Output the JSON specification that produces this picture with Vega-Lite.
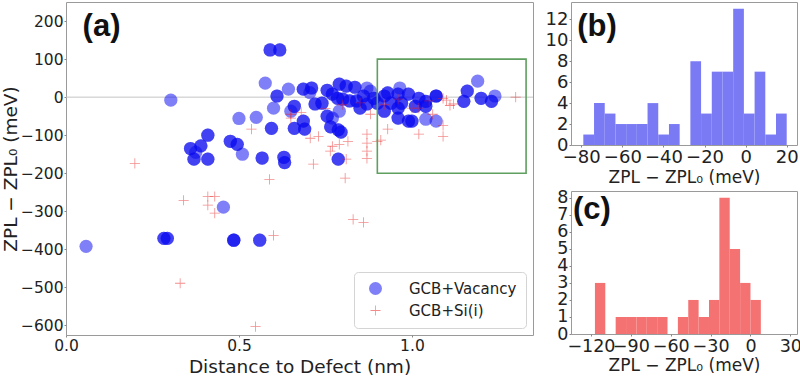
{
"$schema": "https://vega.github.io/schema/vega-lite/v6.json",
"padding": {"left": 0, "top": 1, "right": 0, "bottom": 0},
"config": {
 "font": "DejaVu Sans",
 "view": {"stroke": "#9a9a9a", "strokeWidth": 1},
 "axis": {"grid": false, "domain": false, "tickColor": "#888888", "tickSize": 2, "labelColor": "#222222", "titleColor": "#222222", "titleFontWeight": "normal", "labelFont": "DejaVu Sans", "titleFont": "DejaVu Sans", "labelPadding": 1, "labelOverlap": false, "labelFlush": false}
},
"resolve": {"legend": {"color": "independent", "shape": "independent"}},
"datasets": {
 "scatter": [
  {"d":0.058,"z":-392,"t":"GCB+Vacancy"},
  {"d":0.283,"z":-371,"t":"GCB+Vacancy"},{"d":0.283,"z":-371,"t":"GCB+Vacancy"},
  {"d":0.293,"z":-371,"t":"GCB+Vacancy"},{"d":0.293,"z":-371,"t":"GCB+Vacancy"},
  {"d":0.485,"z":-376,"t":"GCB+Vacancy"},{"d":0.485,"z":-376,"t":"GCB+Vacancy"},{"d":0.485,"z":-376,"t":"GCB+Vacancy"},
  {"d":0.56,"z":-376,"t":"GCB+Vacancy"},{"d":0.56,"z":-376,"t":"GCB+Vacancy"},
  {"d":0.455,"z":-289,"t":"GCB+Vacancy"},
  {"d":0.303,"z":-8,"t":"GCB+Vacancy"},
  {"d":0.59,"z":124,"t":"GCB+Vacancy"},{"d":0.59,"z":124,"t":"GCB+Vacancy"},
  {"d":0.618,"z":124,"t":"GCB+Vacancy"},{"d":0.618,"z":124,"t":"GCB+Vacancy"},
  {"d":0.576,"z":37,"t":"GCB+Vacancy"},
  {"d":0.61,"z":3,"t":"GCB+Vacancy"},{"d":0.61,"z":3,"t":"GCB+Vacancy"},
  {"d":0.60,"z":-29,"t":"GCB+Vacancy"},
  {"d":0.50,"z":-56,"t":"GCB+Vacancy"},
  {"d":0.55,"z":-53,"t":"GCB+Vacancy"},
  {"d":0.594,"z":-82,"t":"GCB+Vacancy"},{"d":0.594,"z":-82,"t":"GCB+Vacancy"},
  {"d":0.41,"z":-100,"t":"GCB+Vacancy"},{"d":0.41,"z":-100,"t":"GCB+Vacancy"},
  {"d":0.36,"z":-135,"t":"GCB+Vacancy"},{"d":0.36,"z":-135,"t":"GCB+Vacancy"},
  {"d":0.39,"z":-128,"t":"GCB+Vacancy"},{"d":0.39,"z":-128,"t":"GCB+Vacancy"},
  {"d":0.375,"z":-145,"t":"GCB+Vacancy"},
  {"d":0.37,"z":-163,"t":"GCB+Vacancy"},{"d":0.37,"z":-163,"t":"GCB+Vacancy"},
  {"d":0.41,"z":-163,"t":"GCB+Vacancy"},{"d":0.41,"z":-163,"t":"GCB+Vacancy"},
  {"d":0.475,"z":-116,"t":"GCB+Vacancy"},{"d":0.475,"z":-116,"t":"GCB+Vacancy"},
  {"d":0.495,"z":-124,"t":"GCB+Vacancy"},{"d":0.495,"z":-124,"t":"GCB+Vacancy"},
  {"d":0.51,"z":-150,"t":"GCB+Vacancy"},
  {"d":0.567,"z":-160,"t":"GCB+Vacancy"},{"d":0.567,"z":-160,"t":"GCB+Vacancy"},
  {"d":0.63,"z":-158,"t":"GCB+Vacancy"},{"d":0.63,"z":-158,"t":"GCB+Vacancy"},
  {"d":0.632,"z":-172,"t":"GCB+Vacancy"},{"d":0.632,"z":-172,"t":"GCB+Vacancy"},
  {"d":0.643,"z":21,"t":"GCB+Vacancy"},
  {"d":0.686,"z":21,"t":"GCB+Vacancy"},{"d":0.686,"z":21,"t":"GCB+Vacancy"},
  {"d":0.71,"z":24,"t":"GCB+Vacancy"},{"d":0.71,"z":24,"t":"GCB+Vacancy"},
  {"d":0.705,"z":12,"t":"GCB+Vacancy"},
  {"d":0.66,"z":-24,"t":"GCB+Vacancy"},{"d":0.66,"z":-24,"t":"GCB+Vacancy"},
  {"d":0.65,"z":-37,"t":"GCB+Vacancy"},
  {"d":0.66,"z":-82,"t":"GCB+Vacancy"},{"d":0.66,"z":-82,"t":"GCB+Vacancy"},
  {"d":0.686,"z":-63,"t":"GCB+Vacancy"},{"d":0.686,"z":-63,"t":"GCB+Vacancy"},
  {"d":0.69,"z":-84,"t":"GCB+Vacancy"},{"d":0.69,"z":-84,"t":"GCB+Vacancy"},
  {"d":0.72,"z":-18,"t":"GCB+Vacancy"},{"d":0.72,"z":-18,"t":"GCB+Vacancy"},
  {"d":0.74,"z":-16,"t":"GCB+Vacancy"},{"d":0.74,"z":-16,"t":"GCB+Vacancy"},
  {"d":0.755,"z":18,"t":"GCB+Vacancy"},{"d":0.755,"z":18,"t":"GCB+Vacancy"},
  {"d":0.77,"z":8,"t":"GCB+Vacancy"},{"d":0.77,"z":8,"t":"GCB+Vacancy"},
  {"d":0.79,"z":34,"t":"GCB+Vacancy"},{"d":0.79,"z":34,"t":"GCB+Vacancy"},
  {"d":0.81,"z":29,"t":"GCB+Vacancy"},{"d":0.81,"z":29,"t":"GCB+Vacancy"},
  {"d":0.835,"z":26,"t":"GCB+Vacancy"},{"d":0.835,"z":26,"t":"GCB+Vacancy"},
  {"d":0.785,"z":-3,"t":"GCB+Vacancy"},{"d":0.785,"z":-3,"t":"GCB+Vacancy"},
  {"d":0.80,"z":-5,"t":"GCB+Vacancy"},{"d":0.80,"z":-5,"t":"GCB+Vacancy"},
  {"d":0.82,"z":-10,"t":"GCB+Vacancy"},{"d":0.82,"z":-10,"t":"GCB+Vacancy"},
  {"d":0.85,"z":-29,"t":"GCB+Vacancy"},{"d":0.85,"z":-29,"t":"GCB+Vacancy"},
  {"d":0.87,"z":-18,"t":"GCB+Vacancy"},{"d":0.87,"z":-18,"t":"GCB+Vacancy"},
  {"d":0.88,"z":16,"t":"GCB+Vacancy"},
  {"d":0.87,"z":24,"t":"GCB+Vacancy"},
  {"d":0.79,"z":-37,"t":"GCB+Vacancy"},
  {"d":0.755,"z":-50,"t":"GCB+Vacancy"},{"d":0.755,"z":-50,"t":"GCB+Vacancy"},
  {"d":0.765,"z":-78,"t":"GCB+Vacancy"},{"d":0.765,"z":-78,"t":"GCB+Vacancy"},
  {"d":0.787,"z":-86,"t":"GCB+Vacancy"},{"d":0.787,"z":-86,"t":"GCB+Vacancy"},
  {"d":0.795,"z":-92,"t":"GCB+Vacancy"},{"d":0.795,"z":-92,"t":"GCB+Vacancy"},
  {"d":0.77,"z":-55,"t":"GCB+Vacancy"},
  {"d":0.787,"z":-163,"t":"GCB+Vacancy"},{"d":0.787,"z":-163,"t":"GCB+Vacancy"},
  {"d":0.86,"z":3,"t":"GCB+Vacancy"},{"d":0.86,"z":3,"t":"GCB+Vacancy"},
  {"d":0.84,"z":-10,"t":"GCB+Vacancy"},{"d":0.84,"z":-10,"t":"GCB+Vacancy"},
  {"d":0.92,"z":3,"t":"GCB+Vacancy"},{"d":0.92,"z":3,"t":"GCB+Vacancy"},
  {"d":0.93,"z":11,"t":"GCB+Vacancy"},{"d":0.93,"z":11,"t":"GCB+Vacancy"},
  {"d":0.96,"z":8,"t":"GCB+Vacancy"},{"d":0.96,"z":8,"t":"GCB+Vacancy"},
  {"d":0.965,"z":24,"t":"GCB+Vacancy"},
  {"d":0.99,"z":8,"t":"GCB+Vacancy"},{"d":0.99,"z":8,"t":"GCB+Vacancy"},
  {"d":1.02,"z":-3,"t":"GCB+Vacancy"},{"d":1.02,"z":-3,"t":"GCB+Vacancy"},
  {"d":1.04,"z":-11,"t":"GCB+Vacancy"},{"d":1.04,"z":-11,"t":"GCB+Vacancy"},
  {"d":1.07,"z":3,"t":"GCB+Vacancy"},{"d":1.07,"z":3,"t":"GCB+Vacancy"},{"d":1.07,"z":3,"t":"GCB+Vacancy"},
  {"d":0.92,"z":-37,"t":"GCB+Vacancy"},{"d":0.92,"z":-37,"t":"GCB+Vacancy"},
  {"d":0.96,"z":-29,"t":"GCB+Vacancy"},{"d":0.96,"z":-29,"t":"GCB+Vacancy"},
  {"d":0.96,"z":-55,"t":"GCB+Vacancy"},{"d":0.96,"z":-55,"t":"GCB+Vacancy"},
  {"d":0.99,"z":-63,"t":"GCB+Vacancy"},{"d":0.99,"z":-63,"t":"GCB+Vacancy"},
  {"d":1.0,"z":-63,"t":"GCB+Vacancy"},{"d":1.0,"z":-63,"t":"GCB+Vacancy"},
  {"d":1.04,"z":-58,"t":"GCB+Vacancy"},
  {"d":1.07,"z":-63,"t":"GCB+Vacancy"},
  {"d":0.89,"z":-3,"t":"GCB+Vacancy"},{"d":0.89,"z":-3,"t":"GCB+Vacancy"},
  {"d":0.90,"z":-16,"t":"GCB+Vacancy"},{"d":0.90,"z":-16,"t":"GCB+Vacancy"},
  {"d":0.94,"z":-16,"t":"GCB+Vacancy"},{"d":0.94,"z":-16,"t":"GCB+Vacancy"},
  {"d":0.97,"z":-16,"t":"GCB+Vacancy"},{"d":0.97,"z":-16,"t":"GCB+Vacancy"},
  {"d":1.01,"z":-24,"t":"GCB+Vacancy"},{"d":1.01,"z":-24,"t":"GCB+Vacancy"},
  {"d":1.04,"z":-24,"t":"GCB+Vacancy"},{"d":1.04,"z":-24,"t":"GCB+Vacancy"},
  {"d":1.16,"z":16,"t":"GCB+Vacancy"},{"d":1.16,"z":16,"t":"GCB+Vacancy"},
  {"d":1.15,"z":-11,"t":"GCB+Vacancy"},{"d":1.15,"z":-11,"t":"GCB+Vacancy"},
  {"d":1.19,"z":42,"t":"GCB+Vacancy"},
  {"d":1.20,"z":-3,"t":"GCB+Vacancy"},{"d":1.20,"z":-3,"t":"GCB+Vacancy"},
  {"d":1.23,"z":-11,"t":"GCB+Vacancy"},{"d":1.23,"z":-11,"t":"GCB+Vacancy"},
  {"d":1.24,"z":3,"t":"GCB+Vacancy"},
  {"d":0.199,"z":-174,"t":"GCB+Si(i)"},
  {"d":0.536,"z":-84,"t":"GCB+Si(i)"},
  {"d":0.588,"z":-216,"t":"GCB+Si(i)"},
  {"d":0.34,"z":-271,"t":"GCB+Si(i)"},
  {"d":0.41,"z":-261,"t":"GCB+Si(i)"},
  {"d":0.43,"z":-261,"t":"GCB+Si(i)"},
  {"d":0.41,"z":-284,"t":"GCB+Si(i)"},
  {"d":0.43,"z":-305,"t":"GCB+Si(i)"},
  {"d":0.33,"z":-489,"t":"GCB+Si(i)"},
  {"d":0.548,"z":-603,"t":"GCB+Si(i)"},
  {"d":0.60,"z":-363,"t":"GCB+Si(i)"},
  {"d":0.715,"z":-176,"t":"GCB+Si(i)"},
  {"d":0.83,"z":-321,"t":"GCB+Si(i)"},
  {"d":0.86,"z":-329,"t":"GCB+Si(i)"},
  {"d":0.807,"z":-213,"t":"GCB+Si(i)"},
  {"d":0.706,"z":-108,"t":"GCB+Si(i)"},
  {"d":0.73,"z":-103,"t":"GCB+Si(i)"},
  {"d":0.764,"z":-142,"t":"GCB+Si(i)"},
  {"d":0.77,"z":-129,"t":"GCB+Si(i)"},
  {"d":0.79,"z":-124,"t":"GCB+Si(i)"},
  {"d":0.815,"z":-116,"t":"GCB+Si(i)"},
  {"d":0.81,"z":-163,"t":"GCB+Si(i)"},
  {"d":0.87,"z":-97,"t":"GCB+Si(i)"},
  {"d":0.87,"z":-121,"t":"GCB+Si(i)"},
  {"d":0.87,"z":-142,"t":"GCB+Si(i)"},
  {"d":0.87,"z":-161,"t":"GCB+Si(i)"},
  {"d":0.90,"z":-116,"t":"GCB+Si(i)"},
  {"d":0.91,"z":-113,"t":"GCB+Si(i)"},
  {"d":0.93,"z":-84,"t":"GCB+Si(i)"},
  {"d":1.02,"z":-97,"t":"GCB+Si(i)"},
  {"d":1.09,"z":-103,"t":"GCB+Si(i)"},
  {"d":1.09,"z":-74,"t":"GCB+Si(i)"},
  {"d":1.09,"z":-3,"t":"GCB+Si(i)"},
  {"d":1.12,"z":-18,"t":"GCB+Si(i)"},
  {"d":1.30,"z":0,"t":"GCB+Si(i)"},
  {"d":0.65,"z":-55,"t":"GCB+Si(i)"},
  {"d":0.65,"z":-45,"t":"GCB+Si(i)"},
  {"d":0.68,"z":-40,"t":"GCB+Si(i)"},
  {"d":0.75,"z":-30,"t":"GCB+Si(i)"},
  {"d":0.80,"z":-20,"t":"GCB+Si(i)"},
  {"d":0.85,"z":-15,"t":"GCB+Si(i)"},
  {"d":0.92,"z":-20,"t":"GCB+Si(i)"},
  {"d":1.0,"z":-29,"t":"GCB+Si(i)"},
  {"d":1.02,"z":-29,"t":"GCB+Si(i)"},
  {"d":1.05,"z":-10,"t":"GCB+Si(i)"},
  {"d":0.96,"z":-5,"t":"GCB+Si(i)"},
  {"d":0.88,"z":-45,"t":"GCB+Si(i)"},
  {"d":1.06,"z":-45,"t":"GCB+Si(i)"},
  {"d":1.10,"z":-8,"t":"GCB+Si(i)"},
  {"d":1.11,"z":-22,"t":"GCB+Si(i)"}
 ],
 "histb": [
  {"s":-79.0,"e":-73.79,"n":1},{"s":-73.79,"e":-68.58,"n":4},{"s":-68.58,"e":-63.37,"n":3},
  {"s":-63.37,"e":-58.16,"n":2},{"s":-58.16,"e":-52.95,"n":2},{"s":-52.95,"e":-47.74,"n":2},
  {"s":-47.74,"e":-42.53,"n":4},{"s":-42.53,"e":-37.32,"n":1},{"s":-37.32,"e":-32.11,"n":2},
  {"s":-32.11,"e":-26.9,"n":0},{"s":-26.9,"e":-21.69,"n":8},{"s":-21.69,"e":-16.48,"n":3},
  {"s":-16.48,"e":-11.27,"n":7},{"s":-11.27,"e":-6.06,"n":7},{"s":-6.06,"e":-0.85,"n":13},
  {"s":-0.85,"e":4.36,"n":3},{"s":4.36,"e":9.57,"n":7},{"s":9.57,"e":14.78,"n":1},
  {"s":14.78,"e":19.99,"n":3}
 ],
 "histc": [
  {"s":-117,"e":-109.2,"n":3},{"s":-109.2,"e":-101.4,"n":0},{"s":-101.4,"e":-93.6,"n":1},
  {"s":-93.6,"e":-85.8,"n":1},{"s":-85.8,"e":-78,"n":1},{"s":-78,"e":-70.2,"n":1},
  {"s":-70.2,"e":-62.4,"n":1},{"s":-62.4,"e":-54.6,"n":0},{"s":-54.6,"e":-46.8,"n":1},
  {"s":-46.8,"e":-39,"n":2},{"s":-39,"e":-31.2,"n":1},{"s":-31.2,"e":-23.4,"n":2},
  {"s":-23.4,"e":-15.6,"n":8},{"s":-15.6,"e":-7.8,"n":5},{"s":-7.8,"e":0,"n":3},
  {"s":0,"e":7.8,"n":2}
 ]
},
"spacing": 38,
"bounds": "flush",
"hconcat": [
 {
  "width": 467,
  "height": 333,
  "layer": [
   {
    "data": {"values": [{"zero": 0}]},
    "mark": {"type": "rule", "color": "#c4c4c4", "strokeWidth": 1},
    "encoding": {"y": {"datum": 0}}
   },
   {
    "data": {"name": "scatter"},
    "mark": {"type": "point", "filled": true, "opacity": 0.52, "size": 175},
    "encoding": {
     "x": {"field": "d", "type": "quantitative", "scale": {"domain": [0, 1.35], "nice": false, "zero": false},
       "axis": {"values": [0, 0.5, 1.0], "format": ".1f", "title": "Distance to Defect (nm)", "labelFontSize": 15.5, "titleFontSize": 18.5, "titlePadding": 4, "labelOverlap": false}},
     "y": {"field": "z", "type": "quantitative", "scale": {"domain": [-625, 250], "nice": false, "zero": false},
       "axis": {"values": [-600, -500, -400, -300, -200, -100, 0, 100, 200], "title": "ZPL − ZPL₀ (meV)", "labelFontSize": 15.5, "titleFontSize": 18.5, "titlePadding": 0, "labelOverlap": false}},
     "color": {"field": "t", "type": "nominal", "scale": {"domain": ["GCB+Vacancy", "GCB+Si(i)"], "range": ["#0a0af0", "#e82020"]},
       "legend": {"orient": "bottom-right", "title": null, "offset": 7, "padding": 9, "strokeColor": "#d4d4d4", "fillColor": "#ffffff", "cornerRadius": 4, "labelFontSize": 15, "labelFont": "DejaVu Sans", "labelColor": "#222222", "symbolSize": 169, "symbolOffset": 5, "labelOffset": 26, "rowPadding": 6}},
     "shape": {"field": "t", "type": "nominal", "scale": {"domain": ["GCB+Vacancy", "GCB+Si(i)"], "range": ["circle", "M-0.77,-0.06L-0.06,-0.06L-0.06,-0.77L0.06,-0.77L0.06,-0.06L0.77,-0.06L0.77,0.06L0.06,0.06L0.06,0.77L-0.06,0.77L-0.06,0.06L-0.77,0.06Z"]},
       "legend": {"orient": "bottom-right", "title": null, "offset": 7, "padding": 9, "strokeColor": "#d4d4d4", "fillColor": "#ffffff", "cornerRadius": 4, "labelFontSize": 15, "labelFont": "DejaVu Sans", "labelColor": "#222222", "symbolSize": 169, "symbolOffset": 5, "labelOffset": 26, "rowPadding": 6}}
    }
   },
   {
    "data": {"values": [{"x0": 0.9, "x1": 1.33, "y0": -200, "y1": 100}]},
    "mark": {"type": "rect", "fill": "transparent", "stroke": "#5f9f5f", "strokeWidth": 1.6},
    "encoding": {
     "x": {"field": "x0", "type": "quantitative"}, "x2": {"field": "x1"},
     "y": {"field": "y0", "type": "quantitative"}, "y2": {"field": "y1"}
    }
   },
   {
    "data": {"values": [{"label": "(a)", "lx": 0.048, "ly": 184}]},
    "mark": {"type": "text", "font": "Liberation Sans", "fontWeight": "bold", "fontSize": 31, "align": "left", "baseline": "middle", "color": "#111111"},
    "encoding": {"x": {"field": "lx", "type": "quantitative"}, "y": {"field": "ly", "type": "quantitative"}, "text": {"field": "label"}}
   }
  ]
 },
 {
  "spacing": 46,
  "bounds": "flush",
  "vconcat": [
   {
    "width": 226,
    "height": 143,
    "layer": [
     {
      "data": {"name": "histb"},
      "mark": {"type": "rect", "color": "#7a7af5"},
      "encoding": {
       "x": {"field": "s", "type": "quantitative", "scale": {"domain": [-85, 25], "nice": false, "zero": false},
         "axis": {"values": [-80, -60, -40, -20, 0, 20], "title": "ZPL − ZPL₀ (meV)", "labelFontSize": 18, "titleFontSize": 17, "titlePadding": 3, "labelOverlap": false}},
       "x2": {"field": "e"},
       "y": {"field": "n", "type": "quantitative", "scale": {"domain": [0, 13.65], "nice": false},
         "axis": {"values": [0, 2, 4, 6, 8, 10, 12], "title": null, "labelFontSize": 18, "labelOverlap": false, "labelSeparation": 0}},
       "y2": {"datum": 0}
      }
     },
     {
      "data": {"values": [{"label": "(b)", "lx": -82, "ly": 11.3}]},
      "mark": {"type": "text", "font": "Liberation Sans", "fontWeight": "bold", "fontSize": 31, "align": "left", "baseline": "middle", "color": "#111111"},
      "encoding": {
       "x": {"field": "lx", "type": "quantitative", "axis": {"values": [-80, -60, -40, -20, 0, 20], "title": "ZPL − ZPL₀ (meV)", "labelFontSize": 18, "titleFontSize": 17, "titlePadding": 3, "labelOverlap": false}},
       "y": {"field": "ly", "type": "quantitative", "axis": {"values": [0, 2, 4, 6, 8, 10, 12], "title": null, "labelFontSize": 18, "labelOverlap": false, "labelSeparation": 0}},
       "text": {"field": "label"}}
     }
    ]
   },
   {
    "width": 226,
    "height": 143,
    "layer": [
     {
      "data": {"name": "histc"},
      "mark": {"type": "rect", "color": "#f57272"},
      "encoding": {
       "x": {"field": "s", "type": "quantitative", "scale": {"domain": [-135, 35], "nice": false, "zero": false},
         "axis": {"values": [-120, -90, -60, -30, 0, 30], "title": "ZPL − ZPL₀ (meV)", "labelFontSize": 17.5, "titleFontSize": 17, "titlePadding": 3, "labelOverlap": false}},
       "x2": {"field": "e"},
       "y": {"field": "n", "type": "quantitative", "scale": {"domain": [0, 8.4], "nice": false},
         "axis": {"values": [0, 1, 2, 3, 4, 5, 6, 7, 8], "title": null, "labelFontSize": 17.5, "labelOverlap": false, "labelSeparation": 0}},
       "y2": {"datum": 0}
      }
     },
     {
      "data": {"values": [{"label": "(c)", "lx": -133.5, "ly": 7.3}]},
      "mark": {"type": "text", "font": "Liberation Sans", "fontWeight": "bold", "fontSize": 31, "align": "left", "baseline": "middle", "color": "#111111"},
      "encoding": {
       "x": {"field": "lx", "type": "quantitative", "axis": {"values": [-120, -90, -60, -30, 0, 30], "title": "ZPL − ZPL₀ (meV)", "labelFontSize": 17.5, "titleFontSize": 17, "titlePadding": 3, "labelOverlap": false}},
       "y": {"field": "ly", "type": "quantitative", "axis": {"values": [0, 1, 2, 3, 4, 5, 6, 7, 8], "title": null, "labelFontSize": 17.5, "labelOverlap": false, "labelSeparation": 0}},
       "text": {"field": "label"}}
     }
    ]
   }
  ]
 }
]
}
